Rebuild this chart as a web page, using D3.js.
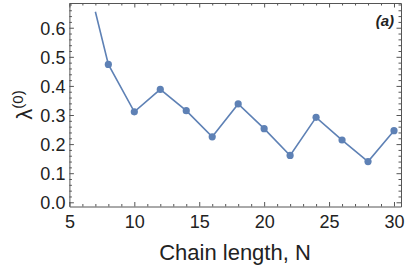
<!DOCTYPE html>
<html>
<head>
<meta charset="utf-8">
<script src="https://cdn.jsdelivr.net/npm/d3@7"></script>
<style>
  body { margin: 0; background: #fff; }
  svg { display: block; font-family: "Liberation Sans", Arial, sans-serif; }
</style>
</head>
<body>
<div id="chart"></div>
<script>
// chain length N and the lowest eigenvalue lambda^(0)
const chainN = [7, 8, 10, 12, 14, 16, 18, 20, 22, 24, 26, 28, 30]
const lambda0 = [0.655, 0.474, 0.311, 0.388, 0.315, 0.225, 0.338, 0.253, 0.161, 0.292, 0.214, 0.140, 0.246]
// N=7 only has the line, no marker
const markerN = [8, 10, 12, 14, 16, 18, 20, 22, 24, 26, 28, 30]
const xTicks = [5, 10, 15, 20, 25, 30]
const yTicks = [0, 0.1, 0.2, 0.3, 0.4, 0.5, 0.6]

const width = 407, height = 268
const plotLeft = 69.4, plotRight = 401, plotTop = 3, plotBottom = 206.5
const frameColor = '#555'
const lineColor = '#5E81B5'

const svg = d3.select('#chart').append('svg')
  .attr('width', width)
  .attr('height', height)

const x = d3.scaleLinear().domain([5, 30.54]).range([plotLeft, plotRight])
const y = d3.scaleLinear().domain([-0.0145, 0.685]).range([plotBottom, plotTop])

const xMinor = d3.range(5, 31, 1).filter(v => !xTicks.includes(v))
const yMinor = d3.range(0, 0.69, 0.02).map(v => +v.toFixed(2))
  .filter(v => !yTicks.some(t => Math.abs(t - v) < 1e-6))

// axes with ticks pointing inward, mirrored on top and right
function drawAxis(axis, at, ticks, size, labels) {
  const g = svg.append('g').attr('transform', at).call(axis.tickValues(ticks).tickSize(size).tickSizeOuter(0))
  g.select('.domain').attr('stroke', frameColor)
  g.selectAll('.tick line').attr('stroke', frameColor)
  if (!labels) g.selectAll('.tick text').remove()
  return g
}

const xb = drawAxis(d3.axisTop(x).tickFormat(d3.format('d')), `translate(0,${plotBottom})`, xTicks, 4.5, true)
xb.selectAll('.tick text')
  .attr('y', 21.5).attr('dy', 0)
  .attr('font-size', 18).attr('fill', '#222').attr('font-family', '"Liberation Sans", Arial, sans-serif')
drawAxis(d3.axisTop(x), `translate(0,${plotBottom})`, xMinor, 2.5, false).select('.domain').remove()
drawAxis(d3.axisBottom(x), `translate(0,${plotTop})`, xTicks, 4.5, false)
drawAxis(d3.axisBottom(x), `translate(0,${plotTop})`, xMinor, 2.5, false).select('.domain').remove()

const yl = drawAxis(d3.axisRight(y).tickFormat(d3.format('.1f')), `translate(${plotLeft},0)`, yTicks, 4.5, true)
yl.selectAll('.tick text')
  .attr('x', -4).attr('text-anchor', 'end').attr('dy', '0.35em')
  .attr('font-size', 18).attr('fill', '#222').attr('font-family', '"Liberation Sans", Arial, sans-serif')
drawAxis(d3.axisRight(y), `translate(${plotLeft},0)`, yMinor, 2.5, false).select('.domain').remove()
drawAxis(d3.axisLeft(y), `translate(${plotRight},0)`, yTicks, 4.5, false)
drawAxis(d3.axisLeft(y), `translate(${plotRight},0)`, yMinor, 2.5, false).select('.domain').remove()

// the data
const pts = chainN.map((n, i) => ({ n: n, v: lambda0[i] }))
const line = d3.line().x(d => x(d.n)).y(d => y(d.v))

svg.append('path')
  .datum(pts)
  .attr('d', line)
  .attr('fill', 'none')
  .attr('stroke', lineColor)
  .attr('stroke-width', 1.6)

svg.append('g').selectAll('circle')
  .data(pts.filter(d => markerN.includes(d.n)))
  .enter()
  .append('circle')
  .attr('cx', d => x(d.n))
  .attr('cy', d => y(d.v))
  .attr('r', 3.6)
  .attr('fill', lineColor)

// panel label
svg.append('text')
  .attr('x', 394).attr('y', 26)
  .attr('text-anchor', 'end')
  .attr('font-size', 15)
  .attr('font-weight', 'bold')
  .attr('font-style', 'italic')
  .attr('fill', '#222')
  .text('(a)')

// axis titles
svg.append('text')
  .attr('x', 235).attr('y', 260)
  .attr('text-anchor', 'middle')
  .attr('font-size', 22)
  .attr('fill', '#222')
  .text('Chain length, N')

const yt = svg.append('text')
  .attr('transform', 'translate(32,105) rotate(-90)')
  .attr('text-anchor', 'middle')
  .attr('font-size', 22)
  .attr('fill', '#222')
yt.append('tspan').text('λ')
yt.append('tspan').attr('dy', -9).attr('font-size', 15).text('(0)')
</script>
</body>
</html>
